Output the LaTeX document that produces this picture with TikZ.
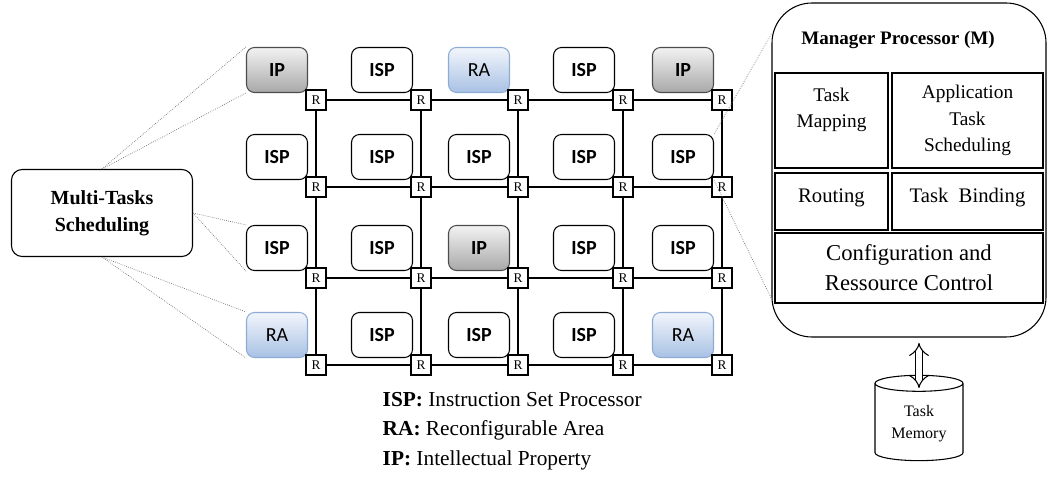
\documentclass[tikz,border=0pt]{standalone}
\usepackage{fontspec}
\setmainfont{Liberation Serif}
\newfontfamily\tilefont{Carlito}
\usetikzlibrary{arrows.meta,shapes.geometric}
\definecolor{raedge}{RGB}{140,172,214}
\definecolor{raface}{RGB}{168,193,228}

\begin{document}
\begin{tikzpicture}[x=0.75pt, y=-0.75pt,
  tile/.style={draw, rounded corners=6pt, line width=0.8pt, minimum width=45.75pt, minimum height=33.75pt, font=\tilefont\bfseries\fontsize{15}{18}\selectfont},
  isp/.style={tile, fill=white},
  ip/.style={tile, draw=gray!60!black, top color=gray!10, bottom color=gray!68},
  ra/.style={tile, draw=raedge, top color=raface!15, bottom color=raface, font=\tilefont\fontsize{15}{18}\selectfont},
  router/.style={draw, fill=white, line width=0.8pt, minimum size=15pt, inner sep=0pt, font=\fontsize{10}{12}\selectfont},
  link/.style={line width=0.8pt},
  hint/.style={densely dotted, gray!80!black, line width=0.5pt},
  block/.style={draw, line width=0.8pt, inner sep=2pt, align=center}]
\path[use as bounding box] (0,0) rectangle (1048,477);
% processing tiles
\node[ip] (t11) at (277,70) {IP};
\node[isp] (t12) at (382,70) {ISP};
\node[ra] (t13) at (479,70) {RA};
\node[isp] (t14) at (584,70) {ISP};
\node[ip] (t15) at (683,70) {IP};
\node[isp] (t21) at (277,157) {ISP};
\node[isp] (t22) at (382,157) {ISP};
\node[isp] (t23) at (479,157) {ISP};
\node[isp] (t24) at (584,157) {ISP};
\node[isp] (t25) at (683,157) {ISP};
\node[isp] (t31) at (277,248) {ISP};
\node[isp] (t32) at (382,248) {ISP};
\node[ip] (t33) at (479,248) {IP};
\node[isp] (t34) at (584,248) {ISP};
\node[isp] (t35) at (683,248) {ISP};
\node[ra] (t41) at (277,335) {RA};
\node[isp] (t42) at (382,335) {ISP};
\node[isp] (t43) at (479,335) {ISP};
\node[isp] (t44) at (584,335) {ISP};
\node[ra] (t45) at (683,335) {RA};
% routers and links
\foreach \i in {1,...,4} {\foreach \j in {1,...,5} {\node[router] (r\i\j) at ([shift={(39,30)}]t\i\j.center) {R};}}
\foreach \i in {1,...,4} {\foreach \j [count=\k from 2] in {1,...,4} {\draw[link] (r\i\j) -- (r\i\k);}}
\foreach \j in {1,...,5} {\foreach \i [count=\k from 2] in {1,...,3} {\draw[link] (r\i\j) -- (r\k\j);}}
% scheduler
\node[draw, rounded corners=8pt, line width=0.8pt, minimum width=135.75pt, minimum height=65.25pt, align=center, font=\bfseries\fontsize{15}{20}\selectfont] (mts) at (102,213) {Multi-Tasks\\Scheduling};
\draw[hint] (mts.north) -- (t11.north west);
\draw[hint] (mts.north) -- (t11.south west);
\draw[hint] (mts.east) -- (t31.north west);
\draw[hint] (mts.east) -- (t31.south west);
\draw[hint] (mts.south) -- (t41.north west);
\draw[hint] (mts.south) -- (t41.south west);
% manager processor
\node[draw, rounded corners=30pt, line width=0.8pt, minimum width=205.5pt, minimum height=250.5pt] (mgr) at (909,170) {};
\node[font=\bfseries\fontsize{14.3}{17}\selectfont] (mgrtitle) at (898,40) {Manager Processor (M)};
\node[block, minimum width=84.75pt, minimum height=71.25pt, font=\fontsize{14.5}{19.5}\selectfont] (tmap) at (831.5,120.5) {Task\\Mapping\\~};
\node[block, minimum width=113.25pt, minimum height=71.25pt, font=\fontsize{14.5}{20}\selectfont] (appsched) at (967.5,120.5) {Application\\Task\\Scheduling};
\node[block, minimum width=84.75pt, minimum height=42.75pt, text depth=9pt, font=\fontsize{15.5}{19}\selectfont] (routing) at (831.5,201.5) {Routing};
\node[block, minimum width=113.25pt, minimum height=42.75pt, text depth=9pt, font=\fontsize{15.5}{19}\selectfont] (binding) at (967.5,201.5) {Task~ Binding};
\node[block, minimum width=201pt, minimum height=52.5pt, font=\fontsize{17}{22.5}\selectfont] (config) at (909,268) {Configuration and\\Ressource Control};
\coordinate (mgrtop) at (772,33);
\coordinate (mgrbot) at (772,300);
\draw[hint] (t25.north east) -- (mgrtop);
\draw[hint] (t25.south east) -- (mgrbot);
% task memory
\node[cylinder, draw, shape border rotate=90, aspect=0.25, minimum width=66pt, minimum height=64pt, line width=0.8pt, align=center, font=\fontsize{12}{16.5}\selectfont] (mem) at (919,424) {Task\\Memory};
\draw[double, double distance=4.5pt, line width=0.8pt, {Implies}-{Implies}, shorten <=4pt, shorten >=-10pt] (mem.north |- mgr.south) -- (mem.north);
% legend
\node[anchor=west, align=left, font=\fontsize{16}{22}\selectfont] (legend) at (378,431) {\textbf{ISP:} Instruction Set Processor\\\textbf{RA:} Reconfigurable Area\\\textbf{IP:} Intellectual Property};
\end{tikzpicture}
\end{document}
